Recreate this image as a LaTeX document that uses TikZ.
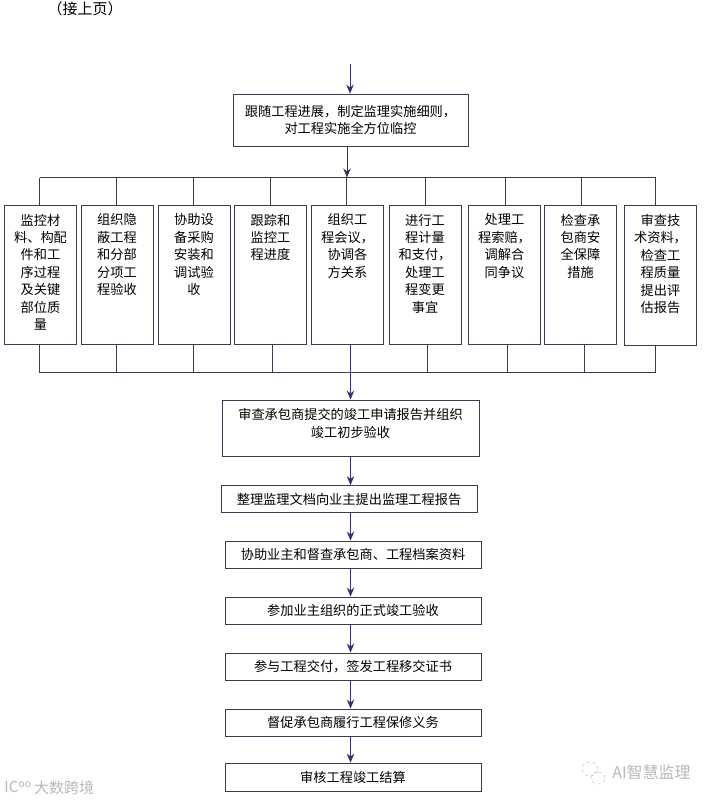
\documentclass[tikz,border=0pt]{standalone}
\usepackage{fontspec}
\setmainfont{Noto Sans CJK SC}
\usetikzlibrary{arrows.meta}
\definecolor{linec}{HTML}{3C3C4A}
\definecolor{arrowc}{HTML}{34316E}
\newcommand{\dutytext}[1]{\parbox[c][139pt][t]{70pt}{\centering\vspace*{8.5pt}#1}}
\tikzset{
    tallbox/.style={draw=linec, line width=0.8pt, minimum width=72pt, minimum height=139pt, anchor=north,
        inner sep=0pt, font=\fontsize{13.2}{17.4}\selectfont},
    wide/.style={draw=linec, line width=0.8pt, minimum width=256pt, minimum height=27pt, inner sep=0pt,
        font=\fontsize{13.2}{17.4}\selectfont},
    bus/.style={draw=linec, line width=0.8pt},
    flow/.style={draw=arrowc, line width=0.9pt, -{Stealth[length=9pt,width=7.5pt]}},
    wmark/.style={text=black!28, inner sep=0pt},
    wline/.style={draw=black!22, line width=0.6pt}
}
\begin{document}
\begin{tikzpicture}[x=1pt, y=-1pt]
        \useasboundingbox (0,0) rectangle (715,803);

        \node[inner sep=0pt, font=\fontsize{15}{17}\selectfont] (cont) at (85,9) {（接上页）};
        \coordinate (start) at (350,64);
        \coordinate (trunk) at (350.5,0);

        \node[wide, minimum width=235pt, minimum height=52pt, align=center] (follow) at (350.5,120)
            {跟随工程进展，制定监理实施细则，\\对工程实施全方位临控};

        % row of nine duties
        \node[tallbox] (d1) at (40.5,205) {\dutytext{监控材\\料、构配\\件和工\\序过程\\及关键\\部位质\\量}};
        \node[tallbox] (d2) at (117,205) {\dutytext{组织隐\\蔽工程\\和分部\\分项工\\程验收}};
        \node[tallbox] (d3) at (194,205) {\dutytext{协助设\\备采购\\安装和\\调试验\\收}};
        \node[tallbox] (d4) at (270.5,205) {\dutytext{跟踪和\\监控工\\程进度}};
        \node[tallbox] (d5) at (347.5,205) {\dutytext{组织工\\程会议，\\协调各\\方关系}};
        \node[tallbox] (d6) at (425,205) {\dutytext{进行工\\程计量\\和支付，\\处理工\\程变更\\事宜}};
        \node[tallbox] (d7) at (504.5,205) {\dutytext{处理工\\程索赔，\\调解合\\同争议}};
        \node[tallbox] (d8) at (580.5,205) {\dutytext{检查承\\包商安\\全保障\\措施}};
        \node[tallbox, minimum height=140pt] (d9) at (660.5,205) {\dutytext{审查技\\术资料，\\检查工\\程质量\\提出评\\估报告}};

        \node[wide, minimum width=257pt, minimum height=56pt, align=center, text height=37pt, text depth=19pt] (review) at (350.5,428)
            {审查承包商提交的竣工申请报告并组织\\竣工初步验收};
        \node[wide] (report) at (349,499) {整理监理文档向业主提出监理工程报告};
        \node[wide] (assist) at (353,554.5) {协助业主和督查承包商、工程档案资料};
        \node[wide] (accept) at (353,610.5) {参加业主组织的正式竣工验收};
        \node[wide] (hand) at (353,666.5) {参与工程交付，签发工程移交证书};
        \node[wide] (warr) at (353,722.5) {督促承包商履行工程保修义务};
        \node[wide, minimum height=28pt] (settle) at (353,777) {审核工程竣工结算};

        \coordinate (topl) at (39.5,177.5);
        \coordinate (topr) at (655.5,177.5);
        \coordinate (botl) at (39.5,372.5);
        \coordinate (botr) at (655.5,372.5);

        \draw[bus] (topl) -- (topr);
        \draw[bus] (botl) -- (botr);
        \draw[bus] (topl) -- (topl |- d1.north);
        \draw[bus] (116.5,177.5) -- (116.5,205);
        \draw[bus] (193.5,177.5) -- (193.5,205);
        \draw[bus] (270.5,177.5) -- (270.5,205);
        \draw[bus] (346.5,177.5) -- (346.5,205);
        \draw[bus] (425.5,177.5) -- (425.5,205);
        \draw[bus] (505.5,177.5) -- (505.5,205);
        \draw[bus] (581.5,177.5) -- (581.5,205);
        \draw[bus] (topr) -- (topr |- d9.north);
        \draw[bus] (botl) -- (botl |- d1.south);
        \draw[bus] (116.5,372.5) -- (116.5,344);
        \draw[bus] (193.5,372.5) -- (193.5,344);
        \draw[bus] (272.5,372.5) -- (272.5,344);
        \draw[bus] (427.5,372.5) -- (427.5,344);
        \draw[bus] (507.5,372.5) -- (507.5,344);
        \draw[bus] (584.5,372.5) -- (584.5,344);
        \draw[bus] (botr) -- (botr |- d9.south);

        \draw[flow] (start) -- (start |- follow.north);
        \draw[flow] (347,147) -- (347,177.5);
        \draw[flow] (trunk |- d5.south) -- (trunk |- review.north);
        \draw[flow] (trunk |- review.south) -- (trunk |- report.north);
        \draw[flow] (trunk |- report.south) -- (trunk |- assist.north);
        \draw[flow] (trunk |- assist.south) -- (trunk |- accept.north);
        \draw[flow] (trunk |- accept.south) -- (trunk |- hand.north);
        \draw[flow] (trunk |- hand.south) -- (trunk |- warr.north);
        \draw[flow] (trunk |- warr.south) -- (trunk |- settle.north);

        % watermarks
        \node[wmark, font=\fontsize{16}{18}\selectfont] (mark1) at (651.5,772) {AI智慧监理};
        \draw[wline, dashed] (590,769) ellipse (8pt and 7pt);
        \draw[wline, dashed] (598,778) ellipse (7pt and 6pt);
        \node[wmark, font=\fontsize{15}{17}\selectfont] (mark2) at (64,788) {大数跨境};
        \node[wmark, font=\fontsize{15}{17}\selectfont] (logo) at (18,787) {IC$^{\mathrm{oo}}$};
    \end{tikzpicture}
\end{document}
